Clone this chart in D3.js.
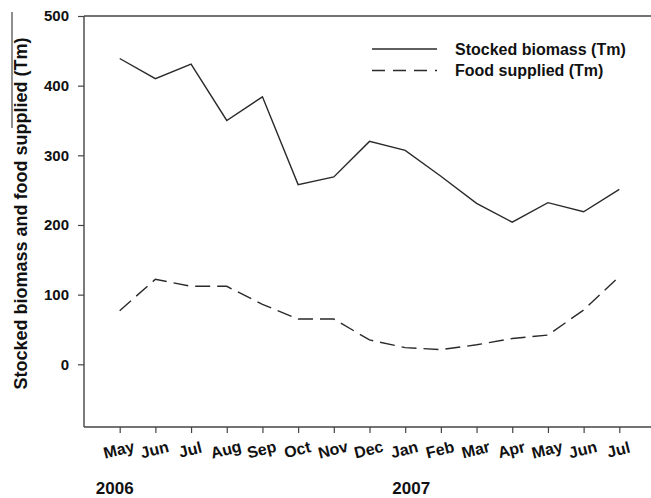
<!DOCTYPE html>
<html>
<head>
<meta charset="utf-8">
<script src="https://cdn.jsdelivr.net/npm/d3@7/dist/d3.min.js"></script>
<style>
  html, body { margin: 0; padding: 0; background: #fff; }
  svg { display: block; }
  text { font-family: Arial, "Liberation Sans", Helvetica, sans-serif; font-weight: bold; fill: #111; }
</style>
</head>
<body>
<svg id="chart" width="651" height="498"></svg>
<script>
// Monthly stock and feeding record, May 2006 – Jul 2007
const months = ["May", "Jun", "Jul", "Aug", "Sep", "Oct", "Nov", "Dec",
                "Jan", "Feb", "Mar", "Apr", "May", "Jun", "Jul"];
const stockedBiomass = [439, 410, 431, 350, 384, 258, 269, 320, 307, 270, 231, 204, 232, 219, 251];
const foodSupplied   = [77, 122, 112, 112, 86, 65, 65, 35, 24, 21, 28, 37, 42, 78, 126];
const yTicks = [0, 100, 200, 300, 400, 500];
const years = [{ label: "2006", month: 0 }, { label: "2007", month: 8 }];
const seriesNames = ["Stocked biomass (Tm)", "Food supplied (Tm)"];

const svg = d3.select("#chart");
const plotL = 84, plotT = 16, plotB = 427, plotR = 655;

const x = d3.scaleLinear().domain([-1, 15]).range([plotL, plotR]);
const y = d3.scaleLinear().domain([-90, 500]).range([plotB, plotT]);

const ink = "#2a2a2a";

// frame: top edge
svg.append("line")
  .attr("x1", plotL).attr("x2", plotR)
  .attr("y1", plotT).attr("y2", plotT)
  .attr("stroke", "#444").attr("stroke-width", 1.4);

// y axis
const yAxis = svg.append("g")
  .attr("transform", `translate(${plotL},0)`)
  .call(d3.axisLeft(y).tickValues(yTicks).tickSize(6).tickPadding(9).tickSizeOuter(0));
yAxis.select(".domain").attr("stroke", "#444").attr("stroke-width", 1.4)
  .attr("d", `M0,${plotT}V${plotB}`);
yAxis.selectAll(".tick line").attr("stroke", "#444").attr("stroke-width", 1.2);
yAxis.selectAll(".tick text")
  .style("font-size", "15px").style("font-weight", "bold").attr("fill", "#111");

// x axis
const xAxis = svg.append("g")
  .attr("transform", `translate(0,${plotB})`)
  .call(d3.axisBottom(x).tickValues(d3.range(months.length))
    .tickFormat(i => months[i]).tickSize(6).tickSizeOuter(0));
xAxis.select(".domain").attr("stroke", "#444").attr("stroke-width", 1.4)
  .attr("d", `M${plotL},0H${plotR}`);
xAxis.selectAll(".tick line").attr("stroke", "#444").attr("stroke-width", 1.2);
xAxis.selectAll(".tick text")
  .attr("y", 0).attr("dy", 0)
  .attr("transform", "translate(0,28) rotate(-14)")
  .style("font-size", "16px").style("font-weight", "bold").attr("fill", "#111");

// year labels beneath the months
svg.append("g").selectAll("text")
  .data(years)
  .join("text")
  .attr("x", d => x(d.month) + (d.month === 0 ? -5 : 6))
  .attr("y", 494)
  .attr("text-anchor", "middle")
  .style("font-size", "17px")
  .text(d => d.label);

// y axis title
svg.append("text")
  .attr("transform", `translate(27,${(plotT + plotB) / 2 - 8}) rotate(-90)`)
  .attr("text-anchor", "middle")
  .style("font-size", "18px")
  .text("Stocked biomass and food supplied (Tm)");
// rule beside the upper part of the title
svg.append("line")
  .attr("x1", 12).attr("x2", 12)
  .attr("y1", 12).attr("y2", 128)
  .attr("stroke", "#444").attr("stroke-width", 1.2);

// series
const line = d3.line().x((d, i) => x(i)).y(d => y(d));
svg.append("path")
  .datum(stockedBiomass)
  .attr("d", line)
  .attr("fill", "none").attr("stroke", ink).attr("stroke-width", 1.4)
  .attr("stroke-linejoin", "miter");
svg.append("path")
  .datum(foodSupplied)
  .attr("d", line)
  .attr("fill", "none").attr("stroke", ink).attr("stroke-width", 1.4)
  .attr("stroke-dasharray", "15,7");

// legend
const legend = svg.append("g");
const legendRows = [
  { name: seriesNames[0], dash: null, y: 49 },
  { name: seriesNames[1], dash: "13,8", y: 70.5 }
];
legendRows.forEach(r => {
  legend.append("line")
    .attr("x1", 372).attr("x2", 437)
    .attr("y1", r.y).attr("y2", r.y)
    .attr("stroke", ink).attr("stroke-width", 1.4)
    .attr("stroke-dasharray", r.dash);
  legend.append("text")
    .attr("x", 455).attr("y", r.y + 5.5)
    .style("font-size", "16px")
    .text(r.name);
});
</script>
</body>
</html>
